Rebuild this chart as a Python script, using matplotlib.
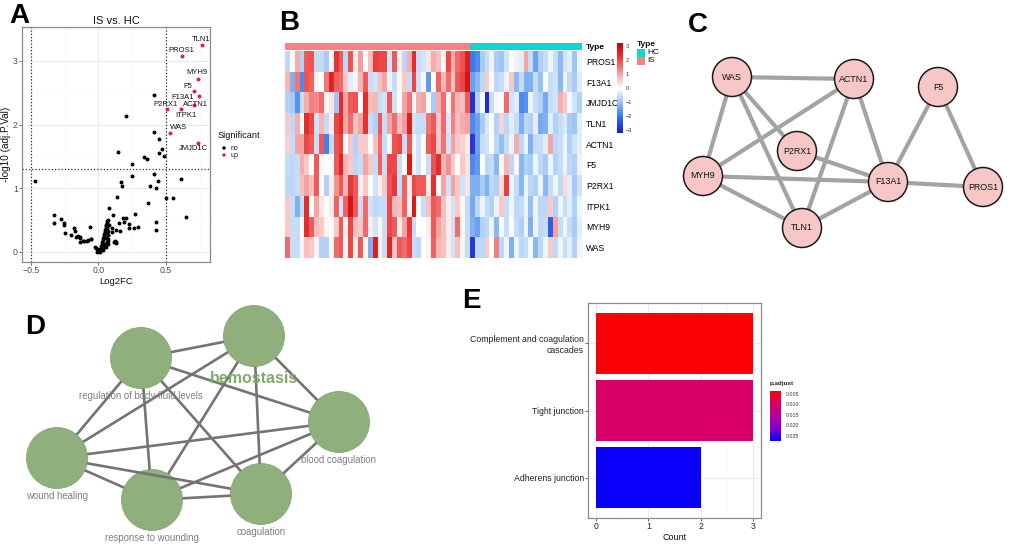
import numpy as np
import matplotlib
matplotlib.use('Agg')
import matplotlib.pyplot as plt
from matplotlib.colors import LinearSegmentedColormap, ListedColormap, Normalize
from matplotlib.patches import Circle, Rectangle

plt.rcParams['font.family'] = ['Liberation Sans', 'DejaVu Sans']

# ---------------- DATA ----------------
# Panel A: volcano plot
up_genes = ['TLN1', 'PROS1', 'MYH9', 'F5', 'F13A1', 'ACTN1', 'P2RX1', 'ITPK1', 'WAS', 'JMJD1C']
up_logfc = [0.763, 0.616, 0.736, 0.707, 0.744, 0.707, 0.510, 0.610, 0.532, 0.734]
up_logp = [3.24, 3.08, 2.71, 2.53, 2.44, 2.30, 2.24, 2.24, 1.86, 1.71]

ns_logfc = [0.414, 0.204, 0.414, 0.450, 0.473, 0.450, 0.488, 0.337, 0.357, 0.143,
            0.247, 0.251, 0.165, 0.177, 0.409, 0.443, 0.382, 0.428, 0.608, 0.500,
            0.552, 0.138, 0.365, 0.648, 0.079, 0.269, 0.106, 0.180, 0.200, 0.424,
            0.424, 0.148, 0.188, 0.227, 0.222, 0.264, 0.295, 0.160, 0.131, 0.099,
            0.103, 0.121, 0.128, 0.069, 0.069, -0.066, -0.135, -0.115, -0.086, -0.052,
            -0.473, -0.332, -0.327, -0.278, -0.258, -0.253, -0.246, -0.179, -0.177, -0.200,
            -0.165, -0.135, -0.155, -0.140, -0.106, -0.081, -0.054, 0.116, 0.126,
            0.000, 0.005, -0.005, 0.010, -0.012, 0.015, -0.020, 0.020, -0.025, 0.024,
            0.028, 0.032, 0.035, 0.038, 0.042, 0.045, 0.048, 0.052, 0.055, 0.058,
            0.062, 0.066, 0.070, 0.060, 0.056, 0.064, 0.068, 0.072, 0.050, 0.044,
            0.075, 0.035, 0.012, -0.008, 0.062, 0.068, 0.058, 0.030, 0.070, 0.066]
ns_logp = [2.47, 2.14, 1.89, 1.78, 1.62, 1.56, 1.50, 1.49, 1.46, 1.57,
           1.38, 1.20, 1.10, 1.04, 1.22, 1.12, 1.04, 1.00, 1.14, 0.84,
           0.84, 0.86, 0.77, 0.55, 0.69, 0.60, 0.58, 0.53, 0.53, 0.47,
           0.35, 0.45, 0.47, 0.44, 0.38, 0.38, 0.39, 0.33, 0.34, 0.38,
           0.31, 0.17, 0.15, 0.26, 0.18, 0.39, 0.22, 0.18, 0.17, 0.20,
           1.12, 0.58, 0.45, 0.51, 0.46, 0.43, 0.30, 0.38, 0.33, 0.27,
           0.24, 0.23, 0.25, 0.15, 0.17, 0.19, 0.21, 0.16, 0.14,
           0.01, 0.02, 0.03, 0.04, 0.05, 0.06, 0.06, 0.09, 0.08, 0.12,
           0.15, 0.19, 0.22, 0.25, 0.28, 0.31, 0.34, 0.37, 0.40, 0.43,
           0.46, 0.49, 0.50, 0.30, 0.22, 0.38, 0.26, 0.33, 0.12, 0.09,
           0.42, 0.06, 0.00, 0.00, 0.16, 0.12, 0.08, 0.03, 0.20, 0.44]
sig_cutoff_logp = 1.301
fc_cutoff = 0.5

# Panel B: heatmap (rows = genes, columns = 38 IS samples then 23 HC samples)
heat_genes = ['PROS1', 'F13A1', 'JMJD1C', 'TLN1', 'ACTN1', 'F5', 'P2RX1', 'ITPK1', 'MYH9', 'WAS']
n_IS, n_HC = 38, 23
PROS1_z = [-0.7, 0.0, 0.9, -0.8, 1.8, 1.9, -0.6, -0.6, -0.9, 0.1, 2.3, 1.8, -0.7, 1.9, 0.2, 1.1, 0.0, 0.7, 2.1, 2.0,
           2.0, -0.5, 1.8, 0.2, -0.7, 0.9, 2.4, -0.6, -0.5, 0.3, 0.9, 0.7, 0.1, 2.0, 0.9, 1.6, 1.9, 2.6,
           -2.0, -1.8, -0.9, -0.6, -0.2, -0.9, -1.0, -0.5, 0.0, -0.2, -0.3, 1.0, -0.6, -1.5, -0.8, -0.6, -0.2, -0.6, -1.2, -0.5, -0.3, -1.0, -0.2]
F13A1_z = [0.8, -1.3, 1.5, -1.8, 1.9, 1.7, 0.1, 0.0, 1.5, 2.5, 1.7, 1.6, 0.6, -0.3, 0.1, 0.8, 1.8, -0.6, -0.5, 0.7,
           1.0, -0.2, -0.6, 0.1, 0.6, -0.6, 2.0, -0.5, 0.1, -1.6, 0.0, 1.7, 0.8, 1.6, 0.7, 1.8, 2.0, 2.8,
           -1.5, -1.2, -0.7, 0.6, 0.0, -0.7, -0.6, -0.2, 0.6, -1.2, -0.6, -1.3, -1.3, -0.6, -1.1, 0.0, -0.6, -0.5, -1.2, -0.2, -0.6, -0.9, -0.3]
JMJD1C_z = [-0.8, -0.9, -1.7, -0.6, 0.9, 1.4, 1.3, 1.6, 0.1, 0.3, -1.0, 2.4, 1.0, 1.8, 1.9, 0.0, 2.4, 0.7, 0.8, -0.6,
            -0.5, 1.8, -0.5, 0.0, 1.0, 1.5, 0.1, 0.9, 1.0, 0.0, -0.9, 0.9, 1.6, 0.1, 1.5, 0.8, 0.7, 1.8,
            -2.9, -0.8, -0.1, -3.0, -0.6, -0.1, 0.0, 1.6, -0.5, -0.3, -1.8, -1.7, -0.2, -0.6, -0.8, -1.4, -0.6, -0.5, 0.9, 0.6, -0.1, -0.5, -0.8]
TLN1_z = [0.6, -0.7, 0.9, 0.0, 2.4, 2.0, -0.5, 0.8, -0.6, 0.2, 2.0, 2.4, 1.0, 1.6, 0.7, 1.0, 2.3, -0.6, -0.8, 1.8,
          -0.6, 1.0, 1.6, 0.7, 1.1, 2.6, -0.5, -0.6, -0.6, 1.5, 1.8, 0.6, 1.6, -0.4, 1.4, 0.7, 0.9, 1.0,
          -1.8, -1.5, -0.9, -0.4, 0.0, -0.8, 0.5, -0.7, -0.3, -0.6, -1.3, -0.7, -0.8, -0.3, -1.4, -1.3, -0.3, -0.8, -0.6, -0.4, -0.9, -1.0, -0.3]
ACTN1_z = [0.5, -0.6, 1.0, 1.0, 2.0, 1.8, -0.6, 1.8, -1.9, -0.6, 1.9, 2.1, 0.0, 0.6, -0.8, 0.6, 0.6, 0.0, 0.7, 1.6,
           -0.6, 0.1, 1.9, 2.0, -0.6, 1.8, 0.1, -0.5, 0.0, 1.8, 2.0, 0.6, 1.5, -0.5, 1.0, 0.6, 0.5, 0.2,
           -2.8, -1.5, -0.6, -0.5, 0.0, -0.7, -1.1, -0.6, -0.2, 0.9, -0.7, -0.2, -1.3, -0.6, -0.6, -0.3, 1.0, -0.7, -0.6, -0.2, -0.8, -0.5, -0.3]
F5_z = [-0.6, -0.7, -0.6, 0.9, 0.6, 0.0, 1.8, 0.1, 0.0, 0.0, 1.8, 2.5, 0.8, 0.6, -0.7, -0.6, 1.0, 0.6, -0.6, 1.7,
        -0.6, 2.0, 2.0, -0.6, 0.0, 2.7, 0.1, -0.5, 0.0, -0.6, 1.9, 2.4, 0.8, 1.2, 0.6, 0.0, 0.6, 0.3,
        -1.8, -1.6, 0.0, -0.7, -0.6, -1.2, -0.1, 0.8, -0.7, 0.1, -1.2, -0.8, -0.9, -0.2, -0.7, -0.9, -0.2, -0.8, -0.6, -0.2, -0.7, -0.8, -0.2]
P2RX1_z = [-0.7, -0.7, -0.6, 0.7, 1.0, 0.7, 1.8, 0.0, -0.8, 0.2, 1.2, 1.8, 0.8, 2.2, 1.8, 0.2, 0.6, 0.0, -0.5, 0.2,
           0.6, 1.9, 2.2, -0.6, 1.7, 0.2, 2.0, 1.8, 1.8, 0.2, 2.4, 0.0, 1.0, -0.5, 1.0, 0.6, -0.5, 0.3,
           -1.3, -1.3, -0.9, -1.3, -0.7, -0.8, 0.4, 2.1, -0.2, -0.6, -1.2, -0.2, -0.7, -0.8, -0.2, -1.2, -0.6, -0.2, -0.7, 0.4, -0.3, -0.9, -0.5]
ITPK1_z = [0.6, -0.6, -1.3, -0.6, 2.4, 0.0, 1.0, 0.3, 0.0, 0.2, 1.7, -0.5, 1.7, 2.8, 1.8, -0.6, 1.6, -0.5, -0.7, -0.6,
           -0.6, 2.0, 0.8, 0.7, 1.7, 0.1, 2.7, 0.0, -0.6, 0.7, 1.8, 1.6, 0.7, 0.2, -0.5, 0.6, 0.1, -0.6,
           -1.4, -0.7, -0.2, -0.6, -0.8, -0.2, 0.6, -0.6, -0.2, -0.7, -0.6, -0.2, -1.1, -0.2, -0.7, -0.7, 0.6, -0.8, -0.2, -0.6, -0.3, -0.8, -0.2]
MYH9_z = [0.6, -0.6, -0.6, 0.0, 2.4, 1.8, 0.7, 0.6, 0.1, 0.0, 0.6, 1.8, 0.2, 2.0, 0.7, 0.6, 1.6, 0.2, -0.5, 0.1,
          -0.6, 2.0, 1.8, 0.2, 1.0, 2.2, -0.6, 0.0, 0.0, 0.2, 1.8, 1.0, 0.7, 0.2, -0.5, 1.6, 0.1, -0.6,
          -1.3, -1.5, -0.8, -0.7, -0.2, -1.2, -0.1, -0.6, 0.0, -0.6, -0.8, -0.2, -1.3, -0.2, -0.7, -0.6, -2.3, 1.0, -0.6, -0.2, -0.6, -0.9, -0.3]
WAS_z = [1.6, -0.6, -0.6, 0.1, 0.7, 0.6, 0.1, -0.8, -0.8, 0.1, 1.6, 1.8, 0.1, 2.0, 0.2, 1.8, 0.1, -1.3, 2.6, 0.2,
         -0.6, 2.5, 0.7, 1.8, 1.6, 2.0, -0.6, -0.7, 0.0, 0.1, 1.7, 0.8, 0.7, 0.2, -0.5, 0.7, 0.1, -0.6,
         -2.8, -0.7, -0.7, 0.6, 0.0, 1.4, -0.7, -0.2, -1.3, -0.2, -0.7, -0.6, -0.1, -1.2, -0.7, -0.2, 0.6, -0.7, -0.2, -0.6, -0.3, -0.8, -0.2]
sample_type = ['IS'] * n_IS + ['HC'] * n_HC

# Panel C: PPI network (layout positions in pixels)
ppi_nodes = ['WAS', 'ACTN1', 'F5', 'P2RX1', 'MYH9', 'F13A1', 'PROS1', 'TLN1']
ppi_x = [732, 854, 938, 797, 703, 888, 983, 802]
ppi_y = [77, 79, 87, 151, 176, 182, 187, 228]
ppi_edges = [('WAS', 'ACTN1'), ('WAS', 'MYH9'), ('WAS', 'P2RX1'), ('WAS', 'TLN1'),
             ('ACTN1', 'MYH9'), ('ACTN1', 'TLN1'), ('ACTN1', 'F13A1'), ('F5', 'F13A1'),
             ('F5', 'PROS1'), ('P2RX1', 'F13A1'), ('MYH9', 'F13A1'), ('MYH9', 'TLN1'),
             ('TLN1', 'F13A1'), ('F13A1', 'PROS1')]

# Panel D: GO term network (layout positions in pixels)
go_terms = ['hemostasis', 'regulation of body fluid levels', 'blood coagulation',
            'wound healing', 'response to wounding', 'coagulation']
go_x = [254, 141, 339, 57, 152, 261]
go_y = [336, 358, 422, 458, 500, 494]
go_edges = [(i, j) for i in range(6) for j in range(i + 1, 6)]

# Panel E: KEGG enrichment
kegg_terms = ['Adherens junction', 'Tight junction', 'Complement and coagulation\ncascades']
kegg_count = [2, 3, 3]
kegg_padj = [0.0270, 0.0095, 0.0040]
padj_ticks = [0.005, 0.010, 0.015, 0.020, 0.025]

# ---------------- FIGURE ----------------
W, H = 1020, 548
fig = plt.figure(figsize=(W / 100, H / 100), dpi=100)


def ax_px(x0, y0, x1, y1, **kw):
    return fig.add_axes([x0 / W, 1 - y1 / H, (x1 - x0) / W, (y1 - y0) / H], **kw)


GRID = '#EBEBEB'
TXT = '#4D4D4D'

# ---- Panel A ----
axA = ax_px(22, 27, 210, 262)
axA.set_xlim(-0.566, 0.825)
axA.set_ylim(-0.157, 3.53)
axA.set_xticks([-0.5, 0.0, 0.5])
axA.set_xticks([-0.25, 0.25, 0.75], minor=True)
axA.set_yticks([0, 1, 2, 3])
axA.set_yticks([0.5, 1.5, 2.5, 3.5], minor=True)
axA.grid(which='major', color=GRID, lw=0.7)
axA.grid(which='minor', color='#F5F5F5', lw=0.4)
axA.set_axisbelow(True)
for s in axA.spines.values():
    s.set_color('#8A8A8A'); s.set_linewidth(0.9)
axA.tick_params(which='major', labelsize=6.3, labelcolor=TXT, color='#555555', length=2, width=0.6, pad=1)
axA.tick_params(which='minor', length=0)
axA.axhline(sig_cutoff_logp, color='#333333', lw=0.9, ls=(0, (1, 1.6)), zorder=1)
axA.axvline(-fc_cutoff, color='#333333', lw=0.9, ls=(0, (1, 1.6)), zorder=1)
axA.axvline(fc_cutoff, color='#333333', lw=0.9, ls=(0, (1, 1.6)), zorder=1)
axA.scatter(ns_logfc, ns_logp, s=8, c='black', lw=0, zorder=3)
axA.scatter(up_logfc, up_logp, s=8, c='#E0195C', lw=0, zorder=3)
label_off = {'TLN1': (-0.7, 4.1), 'PROS1': (0, 3.6), 'MYH9': (-0.7, 5), 'F5': (-4.3, 2.9),
             'F13A1': (-11.5, -0.7), 'ACTN1': (0.7, 0.7), 'P2RX1': (-1.4, 3.6),
             'ITPK1': (3.6, -4.3), 'WAS': (5.8, 4.3), 'JMJD1C': (-2.9, -4.3)}
for g, x, y in zip(up_genes, up_logfc, up_logp):
    axA.annotate(g, (x, y), xytext=label_off[g], textcoords='offset points',
                 ha='center', va='center', fontsize=5.5, color='#111111', zorder=4)
axA.set_title('IS vs. HC', fontsize=8, pad=2.5, color='#111111')
axA.set_xlabel('Log2FC', fontsize=6.8, labelpad=1, color='#111111')
axA.set_ylabel('-log10 (adj.P.Val)', fontsize=7.2, labelpad=1, color='#111111')

# ---- Panel B ----
cmapB = LinearSegmentedColormap.from_list('hm', [
    (0.0, '#2418C8'), (1 / 6, '#2D6FEA'), (2 / 6, '#98C2F4'), (0.5, '#FFFFFF'),
    (4 / 6, '#F5A0A0'), (5 / 6, '#EC3C3C'), (1.0, '#C80000')])
mat = np.array([PROS1_z, F13A1_z, JMJD1C_z, TLN1_z, ACTN1_z, F5_z, P2RX1_z, ITPK1_z, MYH9_z, WAS_z])
axB = ax_px(285, 51, 582, 258)
axB.imshow(mat, cmap=cmapB, vmin=-3.2, vmax=3.2, aspect='auto', interpolation='nearest')
axB.set_yticks(range(len(heat_genes)))
axB.set_yticklabels(heat_genes)
axB.yaxis.tick_right()
axB.tick_params(axis='y', length=0, labelsize=6.2, pad=3)
axB.set_xticks([])
for s in axB.spines.values():
    s.set_visible(False)

type_colors = {'IS': '#F8837B', 'HC': '#10D2D8'}
axBa = ax_px(285, 43, 582, 50)
axBa.imshow([[0 if t == 'IS' else 1 for t in sample_type]],
            cmap=ListedColormap([type_colors['IS'], type_colors['HC']]), vmin=0, vmax=1,
            aspect='auto', interpolation='nearest')
axBa.set_xticks([]); axBa.set_yticks([0]); axBa.set_yticklabels(['Type'])
axBa.yaxis.tick_right()
axBa.tick_params(axis='y', length=0, labelsize=6, pad=3)
for lab in axBa.get_yticklabels():
    lab.set_fontweight('bold')
for s in axBa.spines.values():
    s.set_visible(False)

axBc = ax_px(617, 43, 623, 133)
grad = np.linspace(3.2, -3.2, 200).reshape(-1, 1)
axBc.imshow(grad, cmap=cmapB, vmin=-3.2, vmax=3.2, aspect='auto', extent=[0, 1, -3.2, 3.2])
axBc.set_xticks([])
axBc.set_yticks([3, 2, 1, 0, -1, -2, -3])
axBc.set_yticklabels(['3', '2', '1', '0', '\u22121', '\u22122', '\u22123'])
axBc.yaxis.tick_right()
axBc.tick_params(axis='y', length=0, labelsize=4, pad=2, labelcolor='#333333')
for s in axBc.spines.values():
    s.set_visible(False)

# ---- Panel C ----
axC = ax_px(680, 30, 1020, 270)
axC.set_xlim(680, 1020); axC.set_ylim(270, 30); axC.axis('off')
pos = {n: (x, y) for n, x, y in zip(ppi_nodes, ppi_x, ppi_y)}
for a, b in ppi_edges:
    axC.plot([pos[a][0], pos[b][0]], [pos[a][1], pos[b][1]], color='#A3A3A3', lw=3.0,
             solid_capstyle='butt', zorder=1)
for n in ppi_nodes:
    axC.add_patch(Circle(pos[n], 19.5, facecolor='#F7C6C6', edgecolor='#1A1A1A', lw=1.1, zorder=2))
    axC.text(pos[n][0], pos[n][1], n, ha='center', va='center', fontsize=6.4, color='#111111', zorder=3)

# ---- Panel D ----
axD = ax_px(0, 290, 460, 548)
axD.set_xlim(0, 460); axD.set_ylim(548, 290); axD.axis('off')
R = 30.5
for i in range(6):
    axD.add_patch(Circle((go_x[i], go_y[i]), R, facecolor='#8FAF7C', edgecolor='#86A874', lw=0.6, zorder=1))
for i, j in go_edges:
    x0, y0, x1, y1 = go_x[i], go_y[i], go_x[j], go_y[j]
    d = np.hypot(x1 - x0, y1 - y0)
    ux, uy = (x1 - x0) / d, (y1 - y0) / d
    axD.plot([x0 + ux * R, x1 - ux * R], [y0 + uy * R, y1 - uy * R], color='#747474', lw=1.9,
             solid_capstyle='butt', zorder=2)
for i in range(6):
    if i == 0:
        axD.text(go_x[i], go_y[i] + 42, go_terms[i], ha='center', va='center', fontsize=11.5,
                 fontweight='bold', color='#82AA6C', zorder=3)
    else:
        axD.text(go_x[i], go_y[i] + 38, go_terms[i], ha='center', va='center', fontsize=6.9,
                 color='#7F7F7F', zorder=3)

# ---- Panel E ----
cmapE = LinearSegmentedColormap.from_list('padj', [
    (0.0, '#FF0000'), (0.25, '#D8006A'), (0.5, '#B4009E'), (0.75, '#8000D2'), (1.0, '#0000FF')])
p_lo, p_hi = 0.0036, 0.0274
normE = Normalize(p_lo, p_hi)
axE = ax_px(588, 303, 761, 518)
ypos = np.arange(1, len(kegg_terms) + 1)
axE.barh(ypos, kegg_count, height=0.9, color=[cmapE(normE(p)) for p in kegg_padj], zorder=2)
axE.set_xlim(-0.15, 3.15); axE.set_ylim(0.4, 3.6)
axE.set_xticks([0, 1, 2, 3]); axE.set_xticks([0.5, 1.5, 2.5], minor=True)
axE.set_yticks(ypos); axE.set_yticklabels(kegg_terms)
for lab in axE.get_yticklabels():
    lab.set_horizontalalignment('right')
    lab.set_multialignment('right')
axE.grid(which='major', color=GRID, lw=0.7)
axE.grid(which='minor', axis='x', color='#F5F5F5', lw=0.4)
axE.set_axisbelow(True)
for s in axE.spines.values():
    s.set_color('#8A8A8A'); s.set_linewidth(0.9)
axE.tick_params(which='major', labelsize=6.3, labelcolor='#222222', color='#555555', length=2, width=0.6, pad=1)
axE.tick_params(which='minor', length=0)
axE.set_xlabel('Count', fontsize=6.5, labelpad=1, color='#111111')

axEc = ax_px(770, 391, 781, 441)
gradE = np.linspace(p_lo, p_hi, 200).reshape(-1, 1)
axEc.imshow(gradE, cmap=cmapE, norm=normE, aspect='auto', extent=[0, 1, p_hi, p_lo])
axEc.set_ylim(p_hi, p_lo)
axEc.set_xticks([])
axEc.set_yticks(padj_ticks)
axEc.set_yticklabels(['%.3f' % t for t in padj_ticks])
axEc.yaxis.tick_right()
axEc.tick_params(axis='y', length=2, width=0.4, color='white', labelsize=3.8, pad=1.5, labelcolor='#333333')
for s in axEc.spines.values():
    s.set_visible(False)

# ---- overlay: panel letters and legends ----
ov = ax_px(0, 0, 1020, 548)
ov.set_xlim(0, 1020); ov.set_ylim(548, 0); ov.axis('off'); ov.set_zorder(10)
for L, x, y in [('A', 19, 16), ('B', 289, 23), ('C', 698, 25), ('D', 35, 327), ('E', 471, 301)]:
    ov.text(x, y, L, ha='center', va='center', fontsize=20, fontweight='bold', color='black')

# Panel A legend
ov.text(218, 135, 'Significant', ha='left', va='center', fontsize=6.6, color='#111111')
ov.scatter([224, 224], [148, 155], s=6, c=['black', '#E0195C'], lw=0)
ov.text(231, 148, 'no', ha='left', va='center', fontsize=5, color='#111111')
ov.text(231, 155.5, 'up', ha='left', va='center', fontsize=5, color='#111111')

# Panel B Type legend
ov.text(637, 44, 'Type', ha='left', va='center', fontsize=6, fontweight='bold', color='#111111')
ov.add_patch(Rectangle((637, 48.5), 8, 8, facecolor=type_colors['HC'], edgecolor='none'))
ov.add_patch(Rectangle((637, 56.5), 8, 8, facecolor=type_colors['IS'], edgecolor='none'))
ov.text(647, 52.5, 'HC', ha='left', va='center', fontsize=6, color='#111111')
ov.text(647, 60.5, 'IS', ha='left', va='center', fontsize=6, color='#111111')

# Panel E legend title
ov.text(770, 384, 'p.adjust', ha='left', va='center', fontsize=4.5, fontweight='bold', color='#222222')

fig.savefig('out.png', dpi=100, facecolor='white')
